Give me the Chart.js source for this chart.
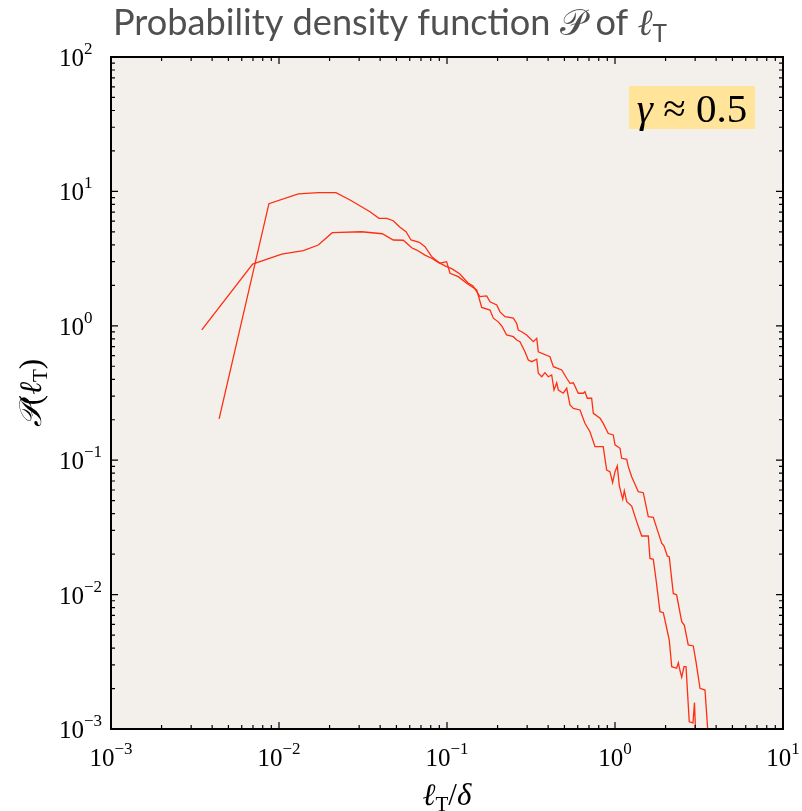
<!DOCTYPE html>
<html>
<head>
<meta charset="utf-8">
<script src="https://cdn.jsdelivr.net/npm/chart.js@4.4.0/dist/chart.umd.min.js"></script>
<style>
  body { margin: 0; background: #fff; }
  #wrap { position: relative; width: 802px; height: 811px; }
</style>
</head>
<body>
<div id="wrap"><canvas id="pdfChart"></canvas></div>
<script>
// l_T/delta and P(l_T) for the two runs
const lenA = [0.00440, 0.00871, 0.01303, 0.01714, 0.02183, 0.02648, 0.03481, 0.03936, 0.04375, 0.04786,
  0.05248, 0.05702, 0.06109, 0.06839, 0.07396, 0.08147, 0.09078, 0.0995, 0.1042, 0.1167,
  0.1309, 0.1503, 0.1609, 0.1803, 0.1888, 0.2018, 0.2118, 0.2264, 0.2483, 0.2600,
  0.2719, 0.2911, 0.3048, 0.3192, 0.3420, 0.3496, 0.3664, 0.3828, 0.4009, 0.4198,
  0.4335, 0.4498, 0.4597, 0.4920, 0.5158, 0.5395, 0.5649, 0.6194, 0.6622, 0.7096,
  0.7603, 0.851, 0.892, 0.933, 0.968, 1.000, 1.032, 1.061, 1.112, 1.136,
  1.174, 1.257, 1.346, 1.442, 1.578, 1.615, 1.690, 1.754, 1.853, 1.939,
  2.012, 2.104, 2.176, 2.328, 2.382, 2.438, 2.495, 2.576, 2.647, 2.767,
  2.912, 2.972, 3.034];
const pdfA = [0.203, 8.10, 9.57, 9.78, 9.78, 8.63, 7.06, 6.31, 6.31, 6.05,
  5.41, 5.01, 4.35, 4.18, 3.88, 3.25, 2.92, 3.00, 2.46, 2.32,
  2.07, 1.85, 1.37, 1.31, 1.14, 1.07, 0.997, 0.855, 0.830, 0.784,
  0.762, 0.641, 0.557, 0.541, 0.564, 0.443, 0.418, 0.448, 0.418, 0.431,
  0.333, 0.377, 0.333, 0.315, 0.343, 0.2575, 0.243, 0.2364, 0.1882, 0.163,
  0.126, 0.126, 0.0845, 0.0821, 0.0681, 0.0821, 0.0906, 0.0643, 0.0512, 0.0593,
  0.0491, 0.0456, 0.0349, 0.0273, 0.0273, 0.0186, 0.0183, 0.0130, 0.00746, 0.00733,
  0.00594, 0.00459, 0.00291, 0.00283, 0.00311, 0.00272, 0.00243, 0.00291, 0.00291, 0.00113,
  0.00111, 0.00157, 0.0008];

const lenB = [0.00347, 0.00697, 0.01038, 0.01395, 0.01714, 0.02075, 0.03103, 0.0412, 0.04786, 0.05495,
  0.06166, 0.06607, 0.07396, 0.08147, 0.0883, 0.0973, 0.1072, 0.1194, 0.1334, 0.1429,
  0.157, 0.1722, 0.1803, 0.1977, 0.2068, 0.2213, 0.2483, 0.260, 0.2655, 0.2783,
  0.2979, 0.3266, 0.342, 0.3496, 0.410, 0.4296, 0.482, 0.5158, 0.5395, 0.5649,
  0.6046, 0.647, 0.6622, 0.684, 0.726, 0.743, 0.815, 0.851, 0.912, 0.977,
  1.0, 1.071, 1.096, 1.174, 1.2, 1.257, 1.376, 1.474, 1.578, 1.690,
  1.786, 1.897, 1.958, 2.047, 2.104, 2.223, 2.328, 2.495, 2.585, 2.729,
  2.924, 3.034, 3.206, 3.434, 3.604];
const pdfB = [0.931, 2.88, 3.42, 3.62, 3.99, 4.93, 5.01, 4.84, 4.35, 4.33,
  3.81, 3.66, 3.36, 3.17, 2.98, 2.79, 2.65, 2.43, 2.08, 1.98,
  1.65, 1.67, 1.51, 1.43, 1.27, 1.17, 1.14, 1.04, 0.931, 0.904,
  0.855, 0.762, 0.807, 0.641, 0.589, 0.496, 0.469, 0.407, 0.373, 0.377,
  0.315, 0.315, 0.3236, 0.289, 0.289, 0.2234, 0.205, 0.188, 0.158, 0.154,
  0.130, 0.1227, 0.1033, 0.1016, 0.0895, 0.0754, 0.0583, 0.0573, 0.0380, 0.0376,
  0.0303, 0.0241, 0.0230, 0.0194, 0.0191, 0.0102, 0.00993, 0.00629, 0.00594, 0.00422,
  0.00415, 0.00317, 0.00201, 0.00195, 0.0008];

// axis decades and their tick label exponents
const xDecades = [1e-3, 1e-2, 1e-1, 1e0, 1e1];
const xExps = ['\u22123', '\u22122', '\u22121', '0', '1'];
const yDecades = [1e-3, 1e-2, 1e-1, 1e0, 1e1, 1e2];
const yExps = ['\u22123', '\u22122', '\u22121', '0', '1', '2'];

const toPoints = (xs, ys) => xs.map((x, i) => ({ x: x, y: ys[i] }));

const serif = '"Liberation Serif", "DejaVu Serif", serif';

// draw a list of text pieces one after the other
function runsWidth(ctx, runs) {
  let w = 0;
  runs.forEach(r => { ctx.font = r.font; w += ctx.measureText(r.text).width; });
  return w;
}
function drawRuns(ctx, runs, x, y) {
  runs.forEach(r => {
    ctx.font = r.font;
    ctx.fillText(r.text, x, y + (r.dy || 0));
    x += ctx.measureText(r.text).width;
  });
}

function minorValues(decades, max) {
  const out = [];
  decades.forEach(d => {
    for (let k = 2; k <= 9; k++) {
      if (k * d < max) out.push(k * d);
    }
  });
  return out;
}

const matlabAxes = {
  id: 'matlabAxes',
  beforeDraw(chart) {
    const { ctx, chartArea: a } = chart;
    ctx.save();
    ctx.fillStyle = '#f3f0eb';
    ctx.fillRect(a.left, a.top, a.right - a.left, a.bottom - a.top);
    ctx.restore();
  },
  afterDraw(chart) {
    const { ctx, chartArea: a } = chart;
    const xs = chart.scales.x, ys = chart.scales.y;
    ctx.save();

    // inward ticks on all four sides
    ctx.strokeStyle = '#000';
    ctx.lineWidth = 1.2;
    const tick = (v, len, horiz) => {
      ctx.beginPath();
      if (horiz) {
        const p = xs.getPixelForValue(v);
        ctx.moveTo(p, a.bottom); ctx.lineTo(p, a.bottom - len);
        ctx.moveTo(p, a.top); ctx.lineTo(p, a.top + len);
      } else {
        const p = ys.getPixelForValue(v);
        ctx.moveTo(a.left, p); ctx.lineTo(a.left + len, p);
        ctx.moveTo(a.right, p); ctx.lineTo(a.right - len, p);
      }
      ctx.stroke();
    };
    xDecades.forEach(v => tick(v, 7, true));
    minorValues(xDecades, 10).forEach(v => tick(v, 4, true));
    yDecades.forEach(v => tick(v, 7, false));
    minorValues(yDecades, 100).forEach(v => tick(v, 4, false));

    // axes box
    ctx.lineWidth = 2;
    ctx.strokeRect(a.left, a.top, a.right - a.left, a.bottom - a.top);

    // tick labels 10^n
    ctx.fillStyle = '#000';
    ctx.textAlign = 'left';
    ctx.textBaseline = 'alphabetic';
    xDecades.forEach((v, i) => {
      const runs = [{ text: '10', font: '25px ' + serif }, { text: xExps[i], font: '17px ' + serif, dy: -12 }];
      const w = runsWidth(ctx, runs);
      drawRuns(ctx, runs, xs.getPixelForValue(v) - w / 2, 766);
    });
    yDecades.forEach((v, i) => {
      const runs = [{ text: '10', font: '25px ' + serif }, { text: yExps[i], font: '17px ' + serif, dy: -12 }];
      drawRuns(ctx, runs, 59, ys.getPixelForValue(v) + 9);
    });

    // x axis title
    const xt = [
      { text: '\u2113', font: 'italic 31px ' + serif },
      { text: 'T', font: '21px ' + serif, dy: 6 },
      { text: '/', font: '31px ' + serif },
      { text: '\u03b4', font: 'italic 31px ' + serif }
    ];
    drawRuns(ctx, xt, (a.left + a.right) / 2 - runsWidth(ctx, xt) / 2, 805);

    // y axis title, rotated
    const yt = [
      { text: '\ud835\udcab', font: 'italic 31px ' + serif },
      { text: '(', font: '31px ' + serif },
      { text: '\u2113', font: 'italic 31px ' + serif },
      { text: 'T', font: '21px ' + serif, dy: 6 },
      { text: ')', font: '31px ' + serif }
    ];
    ctx.save();
    ctx.translate(41, (a.top + a.bottom) / 2);
    ctx.rotate(-Math.PI / 2);
    drawRuns(ctx, yt, -runsWidth(ctx, yt) / 2, 0);
    ctx.restore();

    // gamma label box
    ctx.fillStyle = '#ffe49a';
    ctx.fillRect(629, 86, 126, 43);
    ctx.fillStyle = '#000';
    const gt = [
      { text: '\u03b3', font: 'italic 41px ' + serif },
      { text: ' \u2248 ', font: '41px ' + serif },
      { text: '0.5', font: '41px ' + serif }
    ];
    drawRuns(ctx, gt, 692 - runsWidth(ctx, gt) / 2, 122);

    // title
    const tt = [
      { text: 'Probability density function ', font: '37px Lato, sans-serif' },
      { text: '\ud835\udcab', font: '37px "DejaVu Sans", sans-serif' },
      { text: ' of ', font: '37px Lato, sans-serif' },
      { text: '\u2113', font: 'italic 37px ' + serif },
      { text: 'T', font: '25px Lato, sans-serif', dy: 7 }
    ];
    const tw = runsWidth(ctx, tt);
    const sx = Math.min(1, 554 / tw);
    ctx.fillStyle = '#505050';
    ctx.save();
    ctx.translate(113, 35);
    ctx.scale(sx, 1);
    drawRuns(ctx, tt, 0, 0);
    ctx.restore();

    ctx.restore();
  }
};

const lineStyle = { borderColor: '#ff2e12', borderWidth: 1.3, pointRadius: 0, showLine: true, fill: false, tension: 0 };

const ctx1 = document.getElementById('pdfChart').getContext('2d');
const pdfChart = new Chart(ctx1, {
  type: 'scatter',
  data: {
    datasets: [
      Object.assign({ label: 'run A', data: toPoints(lenA, pdfA) }, lineStyle),
      Object.assign({ label: 'run B', data: toPoints(lenB, pdfB) }, lineStyle)
    ]
  },
  options: {
    responsive: true,
    maintainAspectRatio: false,
    animation: false,
    layout: { padding: { left: 0, top: 57, right: 19, bottom: 0 } },
    plugins: { legend: { display: false }, tooltip: { enabled: false }, title: { display: false } },
    scales: {
      x: {
        type: 'logarithmic', min: 1e-3, max: 10,
        grid: { display: false }, border: { display: false }, ticks: { display: false },
        afterFit(s) { s.height = 82; }
      },
      y: {
        type: 'logarithmic', min: 1e-3, max: 100,
        grid: { display: false }, border: { display: false }, ticks: { display: false },
        afterFit(s) { s.width = 111; }
      }
    }
  },
  plugins: [matlabAxes]
});
</script>
</body>
</html>
